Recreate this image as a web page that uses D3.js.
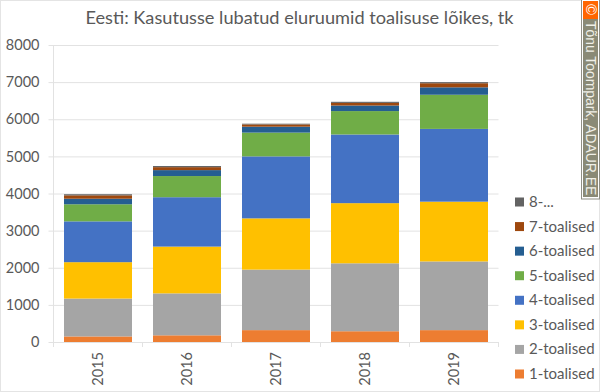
<!DOCTYPE html>
<html>
<head>
<meta charset="utf-8">
<script src="https://cdn.jsdelivr.net/npm/d3@7"></script>
<style>
html, body { margin: 0; padding: 0; background: #fff; }
text { font-family: Lato, "Open Sans", sans-serif; }
</style>
</head>
<body>
<div id="chart-container"></div>
<script>
const years = ["2015", "2016", "2017", "2018", "2019"];
const seriesNames = ["1-toalised", "2-toalised", "3-toalised", "4-toalised", "5-toalised", "6-toalised", "7-toalised", "8-..."];
const colors = ["#ed7d31", "#a5a5a5", "#ffc000", "#4472c4", "#70ad47", "#255e91", "#9e480e", "#636363"];
const tickValues = [0, 1000, 2000, 3000, 4000, 5000, 6000, 7000, 8000];

// one array per series, same order as years
const rooms1 = [150, 180, 320, 290, 320];
const rooms2 = [1020, 1130, 1630, 1830, 1850];
const rooms3 = [980, 1260, 1380, 1620, 1610];
const rooms4 = [1100, 1330, 1670, 1850, 1960];
const rooms5 = [460, 570, 640, 630, 920];
const rooms6 = [150, 160, 160, 150, 200];
const rooms7 = [90, 80, 60, 70, 110];
const rooms8 = [30, 30, 20, 30, 30];
const allSeries = [rooms1, rooms2, rooms3, rooms4, rooms5, rooms6, rooms7, rooms8];

const W = 600, H = 392;
const margin = { top: 45, right: 101.5, bottom: 50, left: 53.5 };
const width = W - margin.left - margin.right;
const height = H - margin.top - margin.bottom;

const rows = years.map((year, i) => {
    const row = { year };
    seriesNames.forEach((name, j) => row[name] = allSeries[j][i]);
    return row;
});

const x = d3.scaleBand().domain(years).range([0, width]).paddingInner(0.236).paddingOuter(0.118);
const y = d3.scaleLinear().domain([0, 8000]).range([height, 0]);

const root = d3.select("#chart-container").append("svg")
    .attr("width", W)
    .attr("height", H)
    .style("display", "block");

// faint frame of the original picture
root.append("rect")
    .attr("x", 0.5).attr("y", 0.5)
    .attr("width", W - 1).attr("height", H - 1)
    .attr("fill", "#fff")
    .attr("stroke", "#e4e4e4");

root.append("text")
    .attr("x", 299.5)
    .attr("y", 24)
    .attr("text-anchor", "middle")
    .attr("font-size", 18.2)
    .attr("fill", "#595959")
    .text("Eesti: Kasutusse lubatud eluruumid toalisuse lõikes, tk");

const svg = root.append("g")
    .attr("transform", `translate(${margin.left},${margin.top})`);

// y axis with full width gridlines
const yAxis = svg.append("g")
    .call(d3.axisLeft(y).tickValues(tickValues).tickSize(-width).tickPadding(14).tickFormat(d3.format("d")));
yAxis.select(".domain").remove();
yAxis.selectAll(".tick line").attr("x1", -5).attr("stroke", "#e2e2e2");
yAxis.selectAll("text").attr("font-size", 14.5).attr("fill", "#595959").style("font-family", "Lato");

svg.append("line")
    .attr("x1", 0).attr("x2", 0)
    .attr("y1", 0).attr("y2", height + 5)
    .attr("stroke", "#e2e2e2");

// category separators below the baseline
const step = width / years.length;
svg.selectAll(".sep")
    .data(d3.range(1, years.length + 1))
    .join("line")
    .attr("x1", d => d * step).attr("x2", d => d * step)
    .attr("y1", height).attr("y2", height + 5)
    .attr("stroke", "#e2e2e2");

const stack = d3.stack().keys(seriesNames)(rows);

svg.selectAll(".layer")
    .data(stack)
    .join("g")
    .attr("fill", (d, i) => colors[i])
    .selectAll("rect")
    .data(d => d)
    .join("rect")
    .attr("x", d => x(d.data.year))
    .attr("width", x.bandwidth())
    .attr("y", d => y(d[1]))
    .attr("height", d => y(d[0]) - y(d[1]));

// rotated year labels
svg.selectAll(".year")
    .data(years)
    .join("text")
    .attr("transform", d => `translate(${x(d) + x.bandwidth() / 2 + 5},${height + 10}) rotate(-90)`)
    .attr("text-anchor", "end")
    .attr("font-size", 14.5)
    .attr("fill", "#595959")
    .text(d => d);

// legend, top entry is the last series
const legend = root.append("g");
const legendRows = seriesNames.slice().reverse();
const legendY = d3.scalePoint().domain(legendRows).range([202, 374]);

legend.selectAll("rect")
    .data(legendRows)
    .join("rect")
    .attr("x", 515)
    .attr("y", d => legendY(d) - 4.5)
    .attr("width", 9)
    .attr("height", 9)
    .attr("fill", d => colors[seriesNames.indexOf(d)]);

legend.selectAll("text")
    .data(legendRows)
    .join("text")
    .attr("x", 529)
    .attr("y", d => legendY(d) + 5)
    .attr("font-size", 15)
    .attr("fill", "#595959")
    .text(d => d);

// copyright strip on the right
const strip = root.append("g");
strip.append("rect")
    .attr("x", 581.5).attr("y", -1)
    .attr("width", 18).attr("height", 200)
    .attr("fill", "#fff")
    .attr("stroke", "#8f8f85");
strip.append("rect")
    .attr("x", 583).attr("y", 1)
    .attr("width", 15).attr("height", 196)
    .attr("fill", "#8a8a76");
strip.append("rect")
    .attr("x", 583).attr("y", 1)
    .attr("width", 15).attr("height", 18)
    .attr("fill", "#ff6600");
strip.append("text")
    .attr("transform", "translate(585.5,4) rotate(90)")
    .attr("font-size", 15)
    .attr("fill", "#fff")
    .style("font-family", "Liberation Sans")
    .text("©");
strip.append("text")
    .attr("transform", "translate(586,21) rotate(90)")
    .attr("font-size", 13.9)
    .attr("fill", "#f0f0e8")
    .style("font-family", "Liberation Sans")
    .text("Tõnu Toompark, ADAUR.EE");
</script>
</body>
</html>
